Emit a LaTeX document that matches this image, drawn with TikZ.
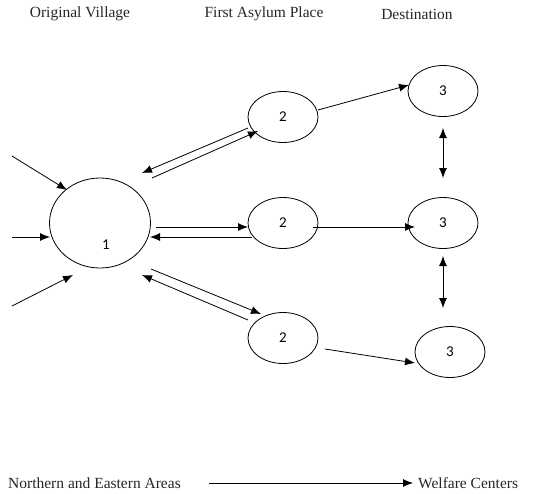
\documentclass[tikz,border=0pt]{standalone}
\usepackage{fontspec}
\setmainfont{Liberation Serif}
\newfontfamily\numfont{Carlito}
\usetikzlibrary{arrows.meta,shapes.geometric,calc}
\begin{document}
\begin{tikzpicture}[x=1pt,y=-1pt,
  place/.style={draw,ellipse,line width=0.8pt,minimum width=70pt,minimum height=51pt,inner sep=0pt,
    font=\numfont\fontsize{15}{15}\selectfont},
  arr/.style={line width=0.8pt,-{Latex[length=10pt,width=8pt]}},
  both/.style={line width=0.8pt,{Latex[length=10pt,width=8pt]}-{Latex[length=10pt,width=8pt]}},
  head/.style={font=\fontsize{15.5}{16}\selectfont,inner sep=0pt,text=black!85}]
\useasboundingbox (0,0) rectangle (533,493);

% column headings
\node[head] (hv) at (80,14) {Original Village};
\node[head] (ha) at (264,14) {First Asylum Place};
\node[head] (hd) at (417,14) {Destination};

% places
\node[place,minimum width=101pt,minimum height=90pt] (c1) at (100,223) {};
\node[font=\numfont\fontsize{15}{15}\selectfont,inner sep=0pt] (n1) at (106,245) {1};
\node[place] (a1) at (283,117) {2};
\node[place] (a2) at (283,223) {2};
\node[place] (a3) at (283,338) {2};
\node[place] (d1) at (443,91) {3};
\node[place] (d2) at (443,223) {3};
\node[place] (d3) at (450,352) {3};

% incoming flows
\coordinate (s1) at (12,156);
\coordinate (s2) at (12,237);
\coordinate (s3) at (12,306);
\draw[arr] (s1) -- ($(c1)+(-33,-33)$);
\draw[arr] (s2) -- ($(c1)+(-50,14)$);
\draw[arr] (s3) -- ($(c1)+(-27,52)$);

% village <-> first asylum
\draw[arr] ($(a1)+(-35,11)$) -- ($(c1)+(42,-50)$);
\draw[arr] ($(c1)+(52,-45)$) -- ($(a1)+(-25,14)$);
\draw[arr] ($(c1)+(56,4)$) -- ($(a2)+(-35,4)$);
\draw[arr] ($(a2)+(-31,14)$) -- ($(c1)+(50,14)$);
\draw[arr] ($(c1)+(51,46)$) -- ($(a3)+(-22,-24)$);
\draw[arr] ($(a3)+(-35,-18)$) -- ($(c1)+(42,52)$);

% first asylum -> destination
\draw[arr] ($(a1)+(35,-7)$) -- ($(d1)+(-34,-6)$);
\draw[arr] ($(a2)+(30,4)$) -- ($(d2)+(-28,4)$);
\draw[arr] ($(a3)+(42,11)$) -- ($(d3)+(-35,11)$);

% between destinations
\draw[both] ($(d1)+(0,37)$) -- ($(d2)+(0,-45)$);
\draw[both] ($(d2)+(0,33)$) -- ($(d3)+(-7,-44)$);

% bottom line
\node[head,anchor=west] (ne) at (8,483) {Northern and Eastern Areas};
\node[head,anchor=west] (wc) at (418,483) {Welfare Centers};
\coordinate (b0) at (209,483);
\draw[arr] (b0) -- ($(wc.west)+(-5,0)$);
\end{tikzpicture}
\end{document}
